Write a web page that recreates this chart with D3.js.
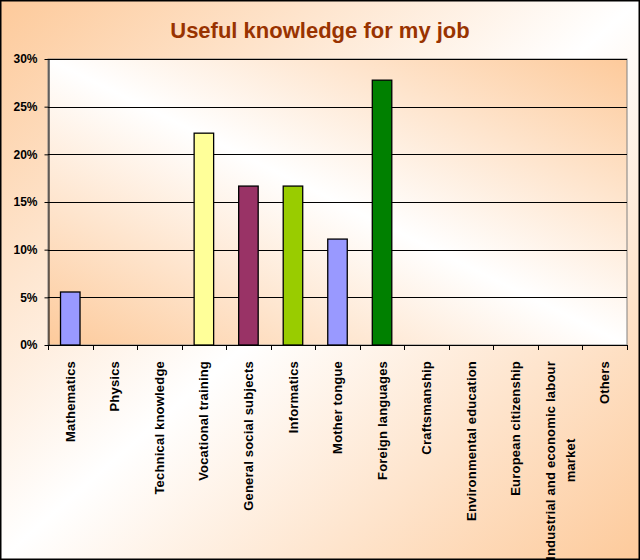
<!DOCTYPE html>
<html><head><meta charset="utf-8">
<script src="https://cdn.jsdelivr.net/npm/d3@7"></script>
<style>body{margin:0;background:#fff}svg{display:block}</style>
</head><body><svg id="c" width="640" height="560"></svg>
<script>
const title = "Useful knowledge for my job";
const categories = ["Mathematics","Physics","Technical knowledge","Vocational training","General social subjects","Informatics","Mother tongue","Foreign languages","Craftsmanship","Environmental education","European citizenship","Industrial and economic labour market","Others"];
const labelLines = [["Mathematics"],["Physics"],["Technical knowledge"],["Vocational training"],["General social subjects"],["Informatics"],["Mother tongue"],["Foreign languages"],["Craftsmanship"],["Environmental education"],["European citizenship"],["Industrial and economic labour","market"],["Others"]];
const values = [5.56,0,0,22.22,16.67,16.67,11.11,27.78,0,0,0,0,0];
const barColors = ["#9999FF","#9999FF","#9999FF","#FFFF99","#993366","#99CC00","#9999FF","#008000","#9999FF","#9999FF","#9999FF","#9999FF","#9999FF"];
const yTicks = [0,5,10,15,20,25,30];

(function(){
const W = 640, H = 560;
const svg = d3.select("#c");
const font = "'Liberation Sans', Arial, sans-serif";
const defs = svg.append("defs");
const orange = "#FDCA9B";
const g1 = defs.append("linearGradient").attr("id","bgGrad").attr("x1",0).attr("y1",0).attr("x2",1).attr("y2",1);
g1.append("stop").attr("offset",0).attr("stop-color",orange);
g1.append("stop").attr("offset",0.5).attr("stop-color","#FFFFFF");
g1.append("stop").attr("offset",1).attr("stop-color",orange);
const g2 = defs.append("linearGradient").attr("id","plotGrad").attr("x1",0).attr("y1",1).attr("x2",1).attr("y2",0);
g2.append("stop").attr("offset",0).attr("stop-color",orange);
g2.append("stop").attr("offset",0.5).attr("stop-color","#FFFFFF");
g2.append("stop").attr("offset",1).attr("stop-color",orange);

svg.append("rect").attr("x",0.75).attr("y",0.75).attr("width",W-1.5).attr("height",H-1.5)
  .attr("fill","url(#bgGrad)").attr("stroke","#000").attr("stroke-width",1.5);

const pl = 48, pr = 627, pt = 59, pb = 345;
const x = d3.scaleBand().domain(categories).range([pl,pr]).paddingInner(0).paddingOuter(0);
const y = d3.scaleLinear().domain([0,30]).range([pb,pt]);

svg.append("rect").attr("x",pl).attr("y",pt).attr("width",pr-pl).attr("height",pb-pt)
  .attr("fill","url(#plotGrad)").attr("stroke","#808080").attr("stroke-width",1);

svg.append("text").attr("x",320).attr("y",38).attr("text-anchor","middle")
  .attr("font-family",font).attr("font-weight","bold").attr("font-size",22).attr("fill","#993300").text(title);

// gridlines
svg.append("g").selectAll("line").data(yTicks.filter(d=>d>0)).join("line")
  .attr("x1",pl).attr("x2",pr).attr("y1",d=>Math.round(y(d))+0.5).attr("y2",d=>Math.round(y(d))+0.5)
  .attr("stroke","#000").attr("stroke-width",1);

// bars
const bw = 19.5;
svg.append("g").selectAll("rect").data(categories.map((c,i)=>({c,v:values[i],col:barColors[i]})).filter(d=>d.v>0)).join("rect")
  .attr("x",d=>x(d.c)+x.bandwidth()/2-bw/2).attr("width",bw)
  .attr("y",d=>y(d.v)).attr("height",d=>y(0)-y(d.v))
  .attr("fill",d=>d.col).attr("stroke","#000").attr("stroke-width",1.3);

// y axis
const ya = svg.append("g").attr("transform",`translate(${pl+0.5},0)`)
  .call(d3.axisLeft(y).tickValues(yTicks).tickFormat(d=>d+"%").tickSize(4).tickSizeOuter(0).tickPadding(7));
ya.selectAll("path,line").attr("stroke","#000");
ya.selectAll("text").attr("font-family",font).attr("font-weight","bold").attr("font-size",12).attr("fill","#000");

// x axis line and ticks at band boundaries
const xa = svg.append("g");
xa.append("line").attr("x1",pl).attr("x2",pr+0.5).attr("y1",pb+0.5).attr("y2",pb+0.5).attr("stroke","#000");
const bounds = categories.map(c=>x(c)).concat([x.range()[1]]);
xa.selectAll("line.t").data(bounds).join("line").attr("class","t")
  .attr("x1",d=>Math.round(d)+0.5).attr("x2",d=>Math.round(d)+0.5).attr("y1",pb).attr("y2",pb+5).attr("stroke","#000");

// x labels
const lineH = 20;
const lg = svg.append("g");
categories.forEach((c,i)=>{
  const lines = labelLines[i];
  const cx = x(c)+x.bandwidth()/2;
  const off = (lines.length-1)*lineH/2;
  const t = lg.append("text").attr("transform",`translate(${cx},${pb+16}) rotate(-90)`)
    .attr("font-family",font).attr("font-weight","bold").attr("font-size",13)
    .attr("letter-spacing",0.2).attr("fill","#000");
  if (lines.length===1) {
    t.attr("text-anchor","end").attr("dy","0.35em").text(lines[0]);
  } else {
    lines.forEach((l,j)=>{
      t.append("tspan").attr("x",0).attr("y",-off+j*lineH).attr("dy","0.35em").text(l);
    });
    const nodes = t.selectAll("tspan").nodes();
    const maxW = d3.max(nodes,n=>n.getComputedTextLength());
    t.attr("text-anchor","middle");
    t.selectAll("tspan").attr("x",-maxW/2);
  }
});
})();
</script></body></html>
